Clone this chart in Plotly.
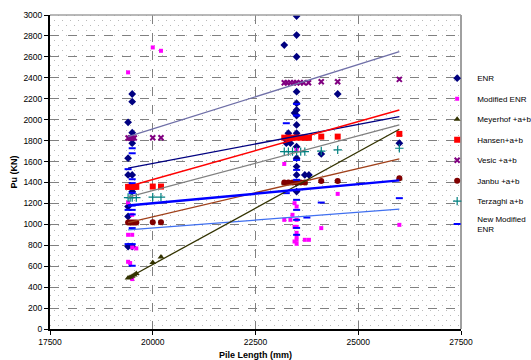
import base64
import struct
import zlib

import plotly.graph_objects as go

# ---------------- data ----------------
enr_x = [19500, 19500, 19400, 19500, 19500, 19500, 19400, 19400, 19500, 19500, 19400, 19400, 19400, 19500,
         23500, 23500, 23200, 23500, 23500, 23500, 23500, 23450, 23500, 23500, 23300, 23500, 23250, 23500,
         23250, 23350, 23500, 23500, 23500, 23700, 23800, 23500, 23500, 24100, 24500, 26000]
enr_y = [2245, 2172, 1975, 1876, 1816, 1775, 1632, 1472, 1472, 1313, 1170, 1075, 788, 788,
         2990, 2808, 2713, 2601, 2267, 2157, 2093, 2064, 2040, 1950, 1870, 1870, 1806, 1742,
         1775, 1775, 1632, 1552, 1472, 1472, 1472, 1396, 1313, 1673, 2245, 1775]

menr_x = [19400, 20000, 20200, 19400, 19500, 19400, 19500, 19500, 19600, 19400, 19450, 19500,
          23200, 23500, 23450, 23500, 23400, 23200, 23350, 23500, 23450, 23500, 23500, 23500, 23500,
          23450, 23500, 23700, 23800, 24100, 24500, 26000]
menr_y = [2452, 2690, 2658, 1208, 1091, 900, 900, 779, 770, 642, 630, 477,
          1577, 1711, 1202, 1170, 1091, 1043, 1043, 1043, 976, 976, 919, 884, 852,
          836, 814, 852, 852, 964, 1291, 995]

mey_x = [19400, 19450, 19500, 19550, 19600, 20000, 20200,
         23200, 23300, 23400, 23500, 23600, 23700, 24100, 24500, 26000]
mey_y = [487, 495, 505, 515, 530, 636, 687,
         1395, 1395, 1395, 1395, 1395, 1395, 1410, 1410, 1435]

han_x = [19400, 19450, 19500, 19550, 19600, 20000, 20200,
         23200, 23300, 23400, 23500, 23600, 23700, 23800, 24100, 24500, 26000]
han_y = [1358, 1358, 1358, 1358, 1358, 1361, 1361,
         1828, 1828, 1828, 1828, 1828, 1828, 1828, 1838, 1838, 1864]

ves_x = [19400, 19450, 19500, 19550, 20000, 20200,
         23200, 23270, 23350, 23430, 23500, 23590, 23670, 23790, 24100, 24500, 26000]
ves_y = [1825, 1825, 1825, 1825, 1828, 1828,
         2353, 2353, 2353, 2353, 2353, 2353, 2353, 2353, 2363, 2363, 2385]

jan_x = [19400, 19450, 19500, 19550, 19600, 20000, 20200,
         23200, 23300, 23400, 23500, 23600, 23700, 24100, 24500, 26000]
jan_y = [1017, 1017, 1017, 1017, 1017, 1021, 1021,
         1399, 1399, 1399, 1399, 1399, 1399, 1415, 1415, 1441]

ter_x = [19400, 19450, 19500, 19600, 20000, 20200,
         23200, 23300, 23400, 23500, 23600, 23700, 24100, 24500, 26000]
ter_y = [1256, 1256, 1256, 1256, 1260, 1260,
         1695, 1695, 1695, 1695, 1695, 1695, 1700, 1711, 1727]

nenr_x = [19500, 19500, 19400, 19500, 19500, 19500, 19500, 19400, 19500, 19500, 19500, 19400, 19500, 19500,
          23250, 23500, 23500, 23500, 23500, 23500, 23250, 23500, 23500, 23500, 23500, 23500, 23500,
          23750, 24100, 26000]
nenr_y = [1727, 1679, 1527, 1431, 1393, 1300, 1180, 1138, 1138, 1095, 964, 811, 811, 604,
          1966, 2150, 2040, 1615, 1520, 1425, 1298, 1329, 1234, 1138, 1043, 966, 900,
          1065, 1208, 1250]

# linear trend lines (start at x=19400, end at x=26000)
trend_x = [19400, 26000]
trend_enr = [1536, 2029]
trend_menr = [948, 1145]
trend_mey = [487, 1908]
trend_han = [1361, 2093]
trend_ves = [1838, 2649]
trend_jan = [1017, 1625]
trend_ter = [1260, 1950]
trend_nenr = [1180, 1420]

x_ticks = [17500, 20000, 22500, 25000, 27500]
y_ticks = list(range(0, 3001, 200))


# ---------------- dotted plot-area background (style only) ----------------
def dotted_png(w, h):
    rows = []
    for yy in range(h):
        row = bytearray([0])
        for xx in range(w):
            v = 255
            r = yy % 10
            if r == 0 and xx % 8 == 0:
                v = 185
            elif r == 5 and xx % 8 == 4:
                v = 185
            row.append(v)
        rows.append(bytes(row))
    raw = b"".join(rows)

    def chunk(tag, data):
        c = struct.pack(">I", len(data)) + tag + data
        return c + struct.pack(">I", zlib.crc32(tag + data) & 0xFFFFFFFF)

    png = b"\x89PNG\r\n\x1a\n"
    png += chunk(b"IHDR", struct.pack(">IIBBBBB", w, h, 8, 0, 0, 0, 0))
    png += chunk(b"IDAT", zlib.compress(raw, 9))
    png += chunk(b"IEND", b"")
    return "data:image/png;base64," + base64.b64encode(png).decode()


# ---------------- figure ----------------
fig = go.Figure()

series = [
    ("ENR", enr_x, enr_y, dict(symbol="diamond", size=6, color="#000080")),
    ("Modified ENR", menr_x, menr_y, dict(symbol="square", size=4, color="#FF00FF")),
    ("Meyerhof +a+b", mey_x, mey_y, dict(symbol="triangle-up", size=6, color="#333300")),
    ("Hansen+a+b", han_x, han_y, dict(symbol="square", size=6, color="#FF0000")),
    ("Vesic +a+b", ves_x, ves_y, dict(symbol="x-thin", size=5, color="#800080",
                                      line=dict(color="#800080", width=2))),
    ("Janbu +a+b", jan_x, jan_y, dict(symbol="circle", size=6, color="#800000")),
    ("Terzaghi a+b", ter_x, ter_y, dict(symbol="cross-thin", size=6, color="#008080",
                                        line=dict(color="#008080", width=1.2))),
    ("New Modified<br>ENR", nenr_x, nenr_y, dict(symbol="line-ew", size=5, color="#0000FF",
                                               line=dict(color="#0000FF", width=2))),
]
for i, (name, xs, ys, mk) in enumerate(series):
    fig.add_trace(go.Scatter(x=xs, y=ys, mode="markers", name=name, marker=mk,
                             legendgroup="g%d" % i))

trends = [
    (trend_ves, "#7070A8", 1.3),
    (trend_enr, "#000080", 1.3),
    (trend_han, "#FF0000", 1.5),
    (trend_ter, "#808080", 1.3),
    (trend_jan, "#A0401A", 1.3),
    (trend_menr, "#4070F0", 1.3),
    (trend_mey, "#333300", 1.3),
    (trend_nenr, "#0000FF", 2.5),
]
for ys, col, w in trends:
    fig.add_trace(go.Scatter(x=trend_x, y=ys, mode="lines", line=dict(color=col, width=w),
                             showlegend=False, hoverinfo="skip"))

font = "Liberation Sans, Arial, sans-serif"
fig.update_layout(
    width=531, height=360,
    margin=dict(l=50, r=70, t=15, b=31, autoexpand=False),
    paper_bgcolor="white",
    plot_bgcolor="white",
    font=dict(family=font, size=8.5, color="black"),
    showlegend=True,
    legend=dict(x=0.942, y=0.845, xanchor="left", yanchor="top",
                font=dict(size=8, family=font), tracegroupgap=1.5,
                bgcolor="rgba(0,0,0,0)", itemwidth=30),
    images=[dict(source=dotted_png(411, 314), xref="paper", yref="paper",
                 x=0, y=1, sizex=1, sizey=1, sizing="stretch",
                 xanchor="left", yanchor="top", layer="below")],
    xaxis=dict(range=[17500, 27500], tickvals=x_ticks, ticktext=[str(v) for v in x_ticks],
               showgrid=True, gridcolor="#808080", griddash="dash", gridwidth=1,
               showline=True, linecolor="black", linewidth=2, mirror=False,
               ticks="outside", ticklen=4, tickcolor="black", zeroline=False,
               title=dict(text="<b>Pile Length (mm)</b>", font=dict(size=9), standoff=6)),
    yaxis=dict(range=[0, 3000], tickvals=y_ticks, ticktext=[str(v) for v in y_ticks],
               showgrid=True, gridcolor="#808080", griddash="dash", gridwidth=1,
               showline=True, linecolor="black", linewidth=2,
               ticks="outside", ticklen=4, tickcolor="black", zeroline=False,
               title=dict(text="<b>Pu (KN)</b>", font=dict(size=9), standoff=4)),
)
# gray border on top and right
fig.add_shape(type="line", xref="paper", yref="paper", x0=0, x1=1, y0=1, y1=1,
              line=dict(color="#A0A0A0", width=1.5))
fig.add_shape(type="line", xref="paper", yref="paper", x0=1, x1=1, y0=0, y1=1,
              line=dict(color="#A0A0A0", width=2))

fig.write_html("out.html")
